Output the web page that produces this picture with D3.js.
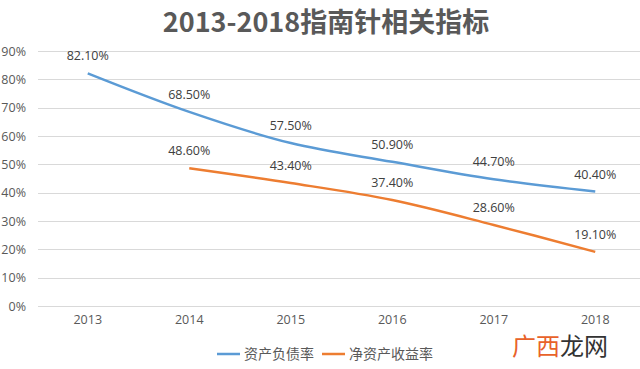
<!DOCTYPE html>
<html>
<head>
<meta charset="utf-8">
<script src="https://cdn.jsdelivr.net/npm/d3@7"></script>
<style>
  body { margin: 0; background: #fff; }
  svg { display: block; font-family: "Noto Sans CJK SC", "Open Sans", sans-serif; }
</style>
</head>
<body>
<svg id="chart"></svg>
<script>
const width  = 640;
const height = 369;

const years    = ['2013', '2014', '2015', '2016', '2017', '2018'];
const debtRate = [82.1, 68.5, 57.5, 50.9, 44.7, 40.4];
const roe      = [null, 48.6, 43.4, 37.4, 28.6, 19.1];
const yTicks   = [0, 10, 20, 30, 40, 50, 60, 70, 80, 90];

const series = [
  {name: '资产负债率', values: debtRate, color: '#5b9bd5'},
  {name: '净资产收益率', values: roe, color: '#ed7d31'}
];

const svg = d3.select('#chart')
  .attr('width', width)
  .attr('height', height);

// band scale runs a bit past the right edge, the source image is cropped there
const x = d3.scaleBand().domain(years).range([37, 646]);
const y = d3.scaleLinear().domain([0, 90]).range([306, 51]);
const cx = (d) => x(d) + x.bandwidth() / 2;

svg.append('text')
  .attr('x', 326)
  .attr('y', 32)
  .attr('text-anchor', 'middle')
  .style('font-size', '27px')
  .style('font-weight', 'bold')
  .style('fill', '#595959')
  .text('2013-2018指南针相关指标');

// grid
svg.append('g')
  .selectAll('line')
  .data(yTicks)
  .enter()
  .append('line')
  .attr('x1', 38)
  .attr('x2', width)
  .attr('y1', (d) => Math.round(y(d)) + 0.5)
  .attr('y2', (d) => Math.round(y(d)) + 0.5)
  .style('stroke', '#d9d9d9')
  .style('stroke-width', 1);

const yAxis = svg.append('g')
  .attr('transform', 'translate(29,0)')
  .call(d3.axisLeft(y).tickValues(yTicks).tickSize(0).tickFormat((d) => d + '%'));
yAxis.select('.domain').remove();
yAxis.selectAll('text')
  .style('font-size', '12.5px')
  .style('fill', '#595959')
  .style('font-family', '"Open Sans", "Noto Sans", sans-serif');

const xAxis = svg.append('g')
  .attr('transform', 'translate(0,310)')
  .call(d3.axisBottom(x).tickSize(0));
xAxis.select('.domain').remove();
xAxis.selectAll('text')
  .attr('dy', '0.9em')
  .style('font-size', '12.5px')
  .style('fill', '#595959')
  .style('font-family', '"Open Sans", "Noto Sans", sans-serif');

const line = d3.line()
  .defined((d) => d.v !== null)
  .x((d) => cx(d.year))
  .y((d) => y(d.v))
  .curve(d3.curveCatmullRom.alpha(0.5));

series.forEach((s) => {
  const pts = years.map((year, i) => ({year: year, v: s.values[i]}));

  svg.append('path')
    .datum(pts)
    .attr('d', line)
    .style('fill', 'none')
    .style('stroke', s.color)
    .style('stroke-width', 2.5);

  svg.append('g')
    .selectAll('text')
    .data(pts.filter((d) => d.v !== null))
    .enter()
    .append('text')
    .attr('x', (d) => cx(d.year))
    .attr('y', (d) => y(d.v) - 13)
    .attr('text-anchor', 'middle')
    .style('font-size', '12.5px')
    .style('fill', '#404040')
    .style('font-family', '"Open Sans", "Noto Sans", sans-serif')
    .text((d) => d.v.toFixed(2) + '%');
});

// legend
const legend = svg.append('g').attr('class', 'legend');
const legendItems = [{x: 217, s: series[0]}, {x: 322, s: series[1]}];
legendItems.forEach((item) => {
  legend.append('line')
    .attr('x1', item.x)
    .attr('x2', item.x + 23)
    .attr('y1', 354)
    .attr('y2', 354)
    .style('stroke', item.s.color)
    .style('stroke-width', 2.5);
  legend.append('text')
    .attr('x', item.x + 27)
    .attr('y', 359)
    .style('font-size', '14px')
    .style('fill', '#595959')
    .text(item.s.name);
});

// watermark
const mark = svg.append('text')
  .attr('x', 512)
  .attr('y', 355)
  .style('font-size', '24px');
mark.append('tspan').style('fill', '#e8622a').text('广西');
mark.append('tspan').style('fill', '#333').text('龙网');
</script>
</body>
</html>
